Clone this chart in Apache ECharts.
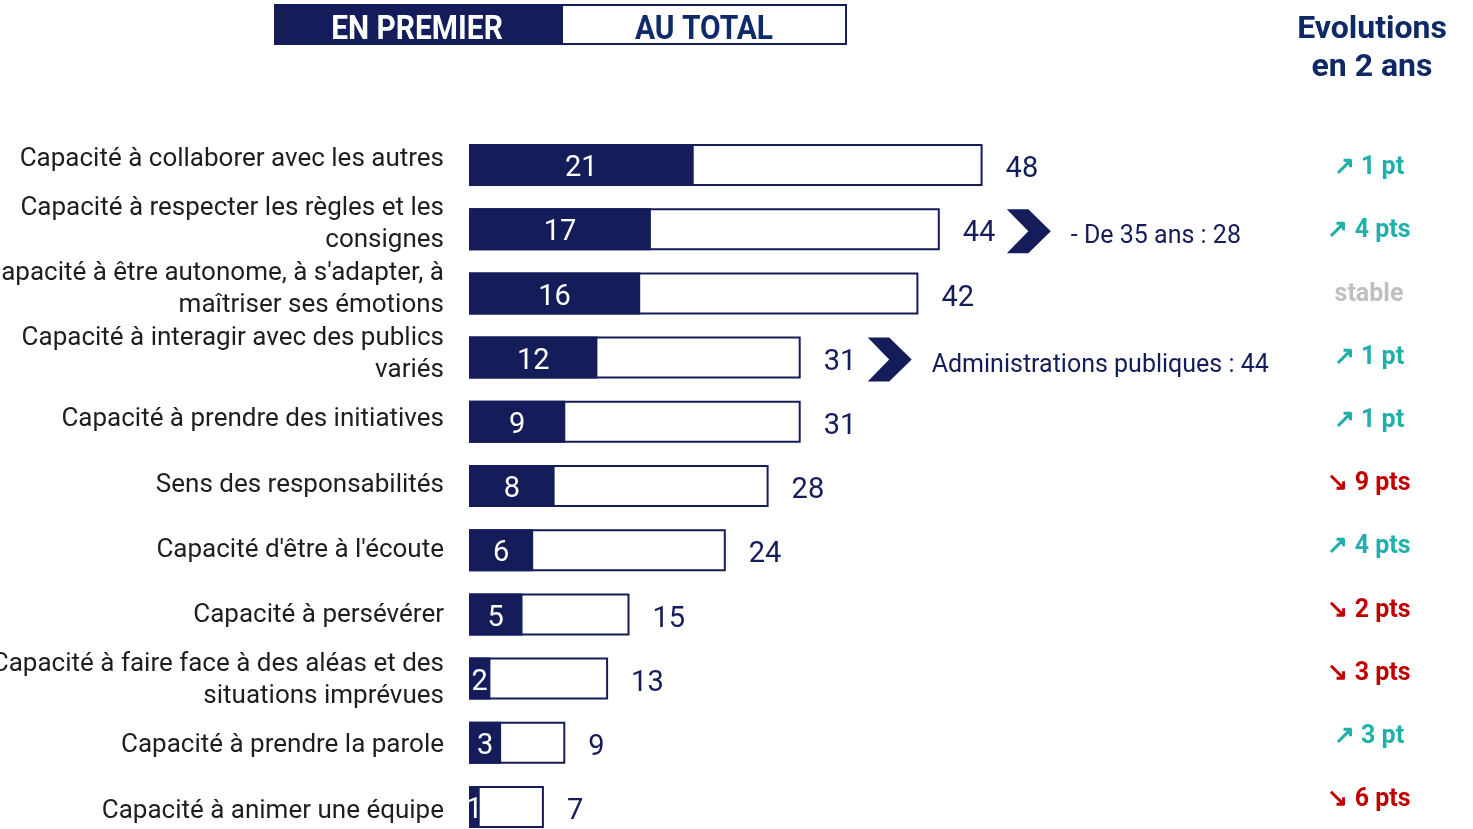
<!DOCTYPE html>
<html>
<head>
<meta charset="utf-8">
<script src="https://cdn.jsdelivr.net/npm/echarts@6/dist/echarts.min.js"></script>
<style>
  html, body { margin: 0; padding: 0; background: #ffffff; }
  #chart { width: 1473px; height: 829px; }
</style>
</head>
<body>
<div id="chart"></div>
<script>
// données
const categories = [
  'Capacité à collaborer avec les autres',
  'Capacité à respecter les règles et les\nconsignes',
  'Capacité à être autonome, à s\'adapter, à\nmaîtriser ses émotions',
  'Capacité à interagir avec des publics\nvariés',
  'Capacité à prendre des initiatives',
  'Sens des responsabilités',
  'Capacité d\'être à l\'écoute',
  'Capacité à persévérer',
  'Capacité à faire face à des aléas et des\nsituations imprévues',
  'Capacité à prendre la parole',
  'Capacité à animer une équipe'
]
const enPremier = [21, 17, 16, 12, 9, 8, 6, 5, 2, 3, 1]
const auTotal = [48, 44, 42, 31, 31, 28, 24, 15, 13, 9, 7]
const evolutions = ['↗ 1 pt', '↗ 4 pts', 'stable', '↗ 1 pt', '↗ 1 pt', '↘ 9 pts', '↗ 4 pts', '↘ 2 pts', '↘ 3 pts', '↗ 3 pt', '↘ 6 pts']
const tendances = ['up', 'up', 'stable', 'up', 'up', 'down', 'up', 'down', 'down', 'up', 'down']
const calloutRows = [1, 3]
const calloutTexts = ['- De 35 ans : 28', 'Administrations publiques : 44']

const NAVY = '#141c5a'
const FONT = 'Roboto, "Noto Sans", sans-serif'

const chart = echarts.init(document.getElementById('chart'))

const calloutData = calloutRows.map((row, i) => ({
  value: [auTotal[row], row],
  label: { formatter: calloutTexts[i] }
}))

const hiddenAxis = { axisLine: { show: false }, axisTick: { show: false }, splitLine: { show: false } }

chart.setOption({
  backgroundColor: '#ffffff',
  animation: false,
  grid: [
    // barres
    { left: 469, top: 165, width: 642, height: 642, outerBoundsMode: 'none' },
    // libellés
    { left: 469, top: 159, width: 10, height: 652, outerBoundsMode: 'none' },
    // évolutions
    { left: 1369, top: 168, width: 10, height: 632, outerBoundsMode: 'none' }
  ],
  xAxis: [
    { gridIndex: 0, type: 'value', min: 0, max: 60, show: false },
    { gridIndex: 1, type: 'value', show: false },
    { gridIndex: 2, type: 'value', show: false }
  ],
  yAxis: [{
    gridIndex: 0,
    type: 'category',
    data: categories,
    inverse: true,
    boundaryGap: false,
    ...hiddenAxis,
    axisLabel: { show: false }
  }, {
    gridIndex: 1,
    type: 'category',
    data: categories,
    inverse: true,
    boundaryGap: false,
    ...hiddenAxis,
    axisLabel: {
      margin: 25,
      fontFamily: FONT,
      fontSize: 26,
      lineHeight: 32,
      color: '#1e1e1e'
    }
  }, {
    gridIndex: 2,
    type: 'category',
    data: evolutions,
    inverse: true,
    boundaryGap: false,
    ...hiddenAxis,
    axisLabel: {
      margin: 0,
      align: 'center',
      formatter: (value, index) => `{${tendances[index]}|${value}}`,
      rich: {
        up: { color: '#1fb0aa', fontWeight: 'bold', fontSize: 25, fontFamily: FONT },
        down: { color: '#c00000', fontWeight: 'bold', fontSize: 25, fontFamily: FONT },
        stable: { color: '#bfbfbf', fontWeight: 'bold', fontSize: 25, fontFamily: FONT }
      }
    }
  }],
  series: [{
    name: 'AU TOTAL',
    type: 'bar',
    data: auTotal,
    barWidth: 42,
    barGap: '-100%',
    itemStyle: { color: '#ffffff', borderColor: NAVY, borderWidth: 2 },
    label: {
      show: true,
      position: 'right',
      distance: 23,
      offset: [0, 5],
      fontFamily: FONT,
      fontSize: 29,
      color: NAVY
    }
  }, {
    name: 'EN PREMIER',
    type: 'bar',
    data: enPremier,
    barWidth: 42,
    itemStyle: { color: NAVY },
    label: {
      show: true,
      position: 'inside',
      offset: [0, 4],
      fontFamily: FONT,
      fontSize: 29,
      color: '#ffffff'
    }
  }, {
    name: 'callouts',
    type: 'scatter',
    data: calloutData,
    symbol: 'path://M0,0 L22,0 L45,22 L22,44 L0,44 L22,22 Z',
    symbolSize: [44, 44],
    symbolOffset: [89, 2],
    itemStyle: { color: NAVY, opacity: 1 },
    label: {
      show: true,
      position: 'right',
      distance: 20,
      offset: [0, 6],
      fontFamily: FONT,
      fontSize: 25,
      color: NAVY
    }
  }],
  graphic: [{
    type: 'rect',
    shape: { x: 274, y: 4, width: 287, height: 41 },
    style: { fill: NAVY }
  }, {
    type: 'rect',
    shape: { x: 562, y: 5, width: 284, height: 39 },
    style: { fill: '#ffffff', stroke: NAVY, lineWidth: 2 }
  }, {
    type: 'text',
    x: 417, y: 30, scaleX: 0.88,
    style: { text: 'EN PREMIER', fill: '#ffffff', font: 'bold 34px ' + FONT, align: 'center', verticalAlign: 'middle' }
  }, {
    type: 'text',
    x: 704, y: 30, scaleX: 0.88,
    style: { text: 'AU TOTAL', fill: '#0e2a6b', font: 'bold 34px ' + FONT, align: 'center', verticalAlign: 'middle' }
  }, {
    type: 'text',
    x: 1372, y: 30,
    style: { text: 'Evolutions', fill: '#0d2a66', font: 'bold 32px ' + FONT, align: 'center', verticalAlign: 'middle' }
  }, {
    type: 'text',
    x: 1372, y: 68,
    style: { text: 'en 2 ans', fill: '#0d2a66', font: 'bold 32px ' + FONT, align: 'center', verticalAlign: 'middle' }
  }]
})
</script>
</body>
</html>
